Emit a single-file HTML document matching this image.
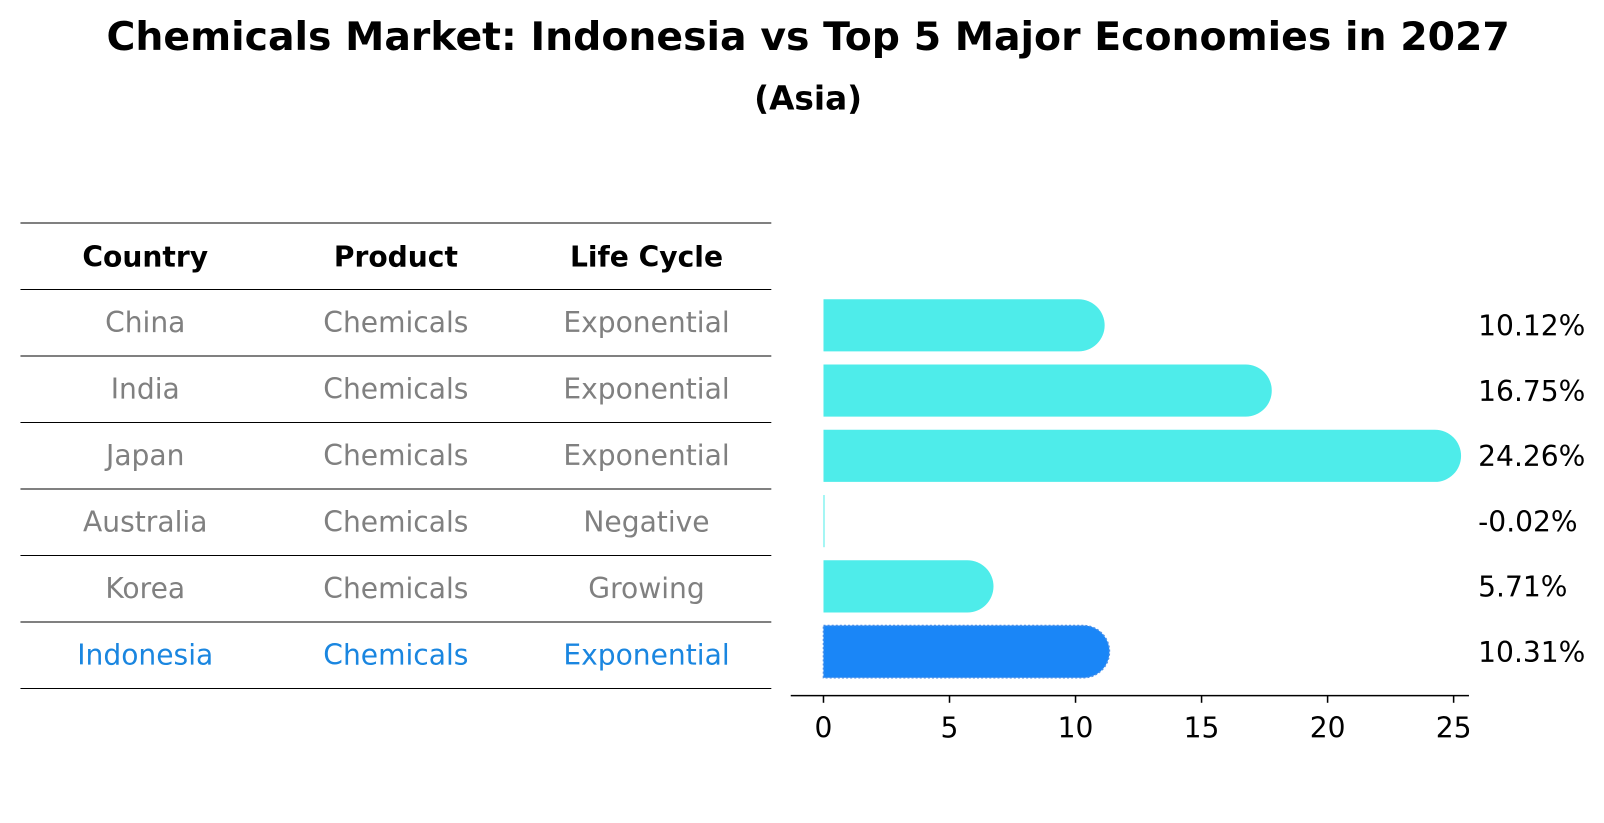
<!DOCTYPE html>
<html><head><meta charset="utf-8">
<style>
body{margin:0;background:#fff;font-family:"Liberation Sans","DejaVu Sans",sans-serif;}
svg{display:block}
</style></head>
<body>
<svg id="chart" width="1604" height="823" viewBox="0 0 1568 804.5" preserveAspectRatio="none" xmlns="http://www.w3.org/2000/svg" font-family="DejaVu Sans, Liberation Sans, sans-serif">
<text x="790" y="49" text-anchor="middle" font-size="38.5" font-weight="bold">Chemicals Market: Indonesia vs Top 5 Major Economies in 2027</text>
<text x="790" y="107" text-anchor="middle" font-size="32" font-weight="bold">(Asia)</text>
<g id="table"></g>
<g id="bars"></g>
</svg>
<script>
const countries=["China","India","Japan","Australia","Korea","Indonesia"];
const products=["Chemicals","Chemicals","Chemicals","Chemicals","Chemicals","Chemicals"];
const lifeCycles=["Exponential","Exponential","Exponential","Negative","Growing","Exponential"];
const values=[10.12,16.75,24.26,-0.02,5.71,10.31];
const valueLabels=["10.12%","16.75%","24.26%","-0.02%","5.71%","10.31%"];
const ticks=[0,5,10,15,20,25];

const NS="http://www.w3.org/2000/svg";
function mk(tag,attrs,parent){const e=document.createElementNS(NS,tag);for(const k in attrs)e.setAttribute(k,attrs[k]);parent.appendChild(e);return e;}
const table=document.getElementById('table');
const bars=document.getElementById('bars');
const rowH=65, tableTop=218;
const colX=[142,387,632];
const FS=27.5;
const hl=mk('line',{x1:20,x2:754,y1:tableTop,y2:tableTop,stroke:'#000','stroke-width':1},table);


["Country","Product","Life Cycle"].forEach((h,i)=>{
  const t=mk('text',{x:colX[i],y:tableTop+rowH/2+10,'text-anchor':'middle','font-size':FS,'font-weight':'bold'},table);
  t.textContent=h;
  
  
});
countries.forEach((c,r)=>{
  const y0=tableTop+rowH*(r+1);
  const ln=mk('line',{x1:20,x2:754,y1:y0,y2:y0,stroke:'#000','stroke-width':1},table);
  
  
  const col=c==="Indonesia"?'#1a86e0':'#808080';
  [c,products[r],lifeCycles[r]].forEach((v,i)=>{
    const t=mk('text',{x:colX[i],y:y0+rowH/2+9,'text-anchor':'middle','font-size':FS,fill:col},table);
    t.textContent=v;
    
    
  });
});
const lb=mk('line',{x1:20,x2:754,y1:tableTop+rowH*7,y2:tableTop+rowH*7,stroke:'#000','stroke-width':1},table);



const x0=805, pxPer=(1421-805)/25;
const xs=v=>x0+v*pxPer;
const yc=i=>318+i*63.8;
const bh=51, rad=25.5;
values.forEach((v,i)=>{
  const isIndo=countries[i]==="Indonesia";
  const col=isIndo?'#1a86f7':'#4eecea';
  const xe=xs(Math.max(v,0));
  const w=xe-x0;
  const top=yc(i)-bh/2;
  let d;
  if(w>0.5){
    d=`M${x0},${top} L${xe},${top} A${rad},${rad} 0 0 1 ${xe},${top+bh} L${x0},${top+bh} Z`;
  } else {
    d=`M${x0},${top} L${x0+1},${top} L${x0+1},${top+bh} L${x0},${top+bh} Z`;
  }
  const p=mk('path',{d:d,fill:col},bars);
  if(isIndo){p.setAttribute('stroke','#4a8fe8');p.setAttribute('stroke-dasharray','2,2');p.setAttribute('stroke-width','1.5');}
  
  
  const t=mk('text',{x:1445,y:yc(i)+10,'font-size':FS,fill:'#000'},bars);
  t.textContent=valueLabels[i];
  
  
});
const ax=mk('line',{x1:773,x2:1436,y1:680,y2:680,stroke:'#000','stroke-width':1.5},bars);


ticks.forEach(tv=>{
  const tk=mk('line',{x1:xs(tv),x2:xs(tv),y1:680,y2:687,stroke:'#000','stroke-width':1.5},bars);
  
  
  const t=mk('text',{x:xs(tv),y:721,'text-anchor':'middle','font-size':FS},bars);
  t.textContent=tv;
  
  
});
</script>
</body></html>
